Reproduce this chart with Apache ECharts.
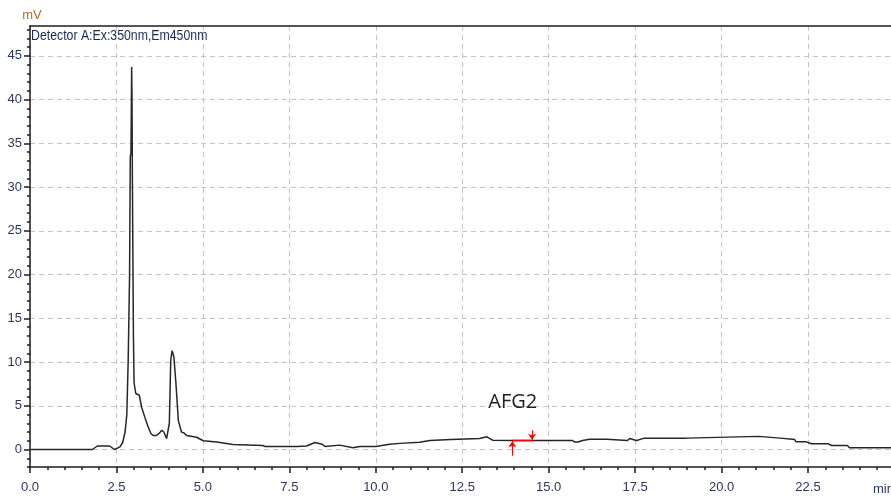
<!DOCTYPE html>
<html>
<head>
<meta charset="utf-8">
<title>Detector A chromatogram</title>
<script src="https://cdn.jsdelivr.net/npm/echarts@6/dist/echarts.min.js"></script>
<style>
  html, body { margin: 0; padding: 0; background: #ffffff; }
  #chart { width: 891px; height: 497px; }
</style>
</head>
<body>
<div id="chart"></div>
<script>
// Retention time (min) and detector response (mV)
const times = [
  0.0, 1.8, 1.95, 2.3, 2.45, 2.5, 2.6, 2.68, 2.75, 2.8,
  2.84, 2.88, 2.9, 2.92, 2.94, 2.95, 2.96, 2.99, 3.01, 3.06,
  3.16, 3.23, 3.32, 3.42, 3.5, 3.56, 3.66, 3.75, 3.81, 3.87,
  3.95, 4.0, 4.03, 4.07, 4.11, 4.16, 4.22, 4.29, 4.38, 4.45,
  4.53, 4.82, 5.01, 5.4, 5.87, 6.73, 6.8, 7.72, 7.75, 8.0,
  8.24, 8.45, 8.53, 8.96, 9.34, 9.54, 10.0, 10.4, 10.7, 11.27,
  11.56, 12.17, 13.0, 13.21, 13.38, 13.96, 14.54, 15.69, 15.75, 15.85,
  15.98, 16.18, 16.68, 16.71, 17.28, 17.34, 17.54, 17.77, 18.99, 19.02,
  21.07, 21.1, 21.7, 21.75, 22.11, 22.15, 22.43, 22.6, 23.09, 23.18,
  23.64, 23.7, 24.9
];
const signal = [
  0.0, 0.0, 0.4, 0.4, 0.0, -0.1, 0.3, 0.8, 2.0, 4.0,
  10.2, 20.0, 33.5, 33.8, 43.7, 40.0, 31.6, 13.3, 7.6, 6.4,
  6.2, 4.8, 3.7, 2.55, 1.8, 1.6, 1.6, 1.9, 2.2, 2.0,
  1.25, 1.3, 3.0, 10.2, 11.3, 10.6, 7.6, 3.3, 2.0, 1.9,
  1.6, 1.4, 1.0, 0.85, 0.57, 0.45, 0.35, 0.35, 0.57, 0.4,
  0.8, 0.6, 0.35, 0.5, 0.2, 0.35, 0.35, 0.6, 0.7, 0.84,
  1.03, 1.15, 1.26, 1.45, 1.06, 1.03, 1.03, 1.03, 0.85, 0.85,
  1.03, 1.18, 1.18, 1.03, 1.03, 1.25, 1.03, 1.3, 1.3, 1.5,
  1.5, 1.3, 1.3, 1.15, 1.15, 0.9, 0.9, 0.65, 0.65, 0.46,
  0.46, 0.2, 0.2
];

// Axis ticks
const xTicks = [0, 2.5, 5, 7.5, 10, 12.5, 15, 17.5, 20, 22.5];
const xMinorTicks = [];
for (let t = 0.5; t < 24.9; t += 0.5) xMinorTicks.push(Math.round(t * 10) / 10);
const yTicks = [0, 5, 10, 15, 20, 25, 30, 35, 40, 45];
const yMinorTicks = [];
for (let v = -2; v <= 48; v += 1) yMinorTicks.push(v);

// Integrated peak: name, start / end time, baseline level
const peakName = 'AFG2';
const peakStart = 13.95;
const peakEnd = 14.54;
const peakBase = 1.03;
const peakLabelPos = [13.96, 5.4];
const startArrow = [[13.95, -0.7], [13.95, 0.95]];
const endArrow = [[14.52, 2.2], [14.52, 1.12]];

const xMin = 0, xMax = 24.9, yMin = -2, yMax = 48.4;

const labelColor = '#2c3660';
const axisColor = '#1e1e1e';
const gridColor = '#c4c4c4';
const labelFont = '"Liberation Sans", Arial, sans-serif';

const chart = echarts.init(document.getElementById('chart'), null, { renderer: 'canvas' });

chart.setOption({
  animation: false,
  backgroundColor: '#ffffff',
  grid: { left: 30, right: 0, top: 26, bottom: 30 },
  xAxis: [
    {
      type: 'value', min: xMin, max: xMax, position: 'bottom',
      axisLine: { show: true, onZero: false, lineStyle: { color: axisColor, width: 1.5 } },
      axisTick: { show: true, customValues: xTicks, length: 6, lineStyle: { color: axisColor, width: 1.5 } },
      axisLabel: {
        show: true, customValues: xTicks, margin: 14,
        formatter: v => v.toFixed(1),
        color: labelColor, fontSize: 13, fontFamily: labelFont
      },
      splitLine: { show: true, lineStyle: { color: gridColor, width: 1, type: [5, 4] } }
    },
    {
      type: 'value', min: xMin, max: xMax, position: 'bottom',
      axisLine: { show: false, onZero: false },
      axisTick: { show: true, customValues: xMinorTicks, length: 3, lineStyle: { color: axisColor, width: 1.5 } },
      axisLabel: { show: false },
      splitLine: { show: false }
    },
    {
      type: 'value', min: xMin, max: xMax, position: 'top',
      axisLine: { show: true, onZero: false, lineStyle: { color: axisColor, width: 1.5 } },
      axisTick: { show: false },
      axisLabel: { show: false },
      splitLine: { show: false }
    }
  ],
  yAxis: [
    {
      type: 'value', min: yMin, max: yMax, position: 'left',
      name: 'mV', nameLocation: 'end', nameGap: 4,
      nameTextStyle: { color: '#b06c28', fontSize: 13, fontFamily: labelFont, padding: [0, 0, 0, 4] },
      axisLine: { show: true, onZero: false, lineStyle: { color: axisColor, width: 1.5 } },
      axisTick: { show: true, customValues: yTicks, length: 6, lineStyle: { color: axisColor, width: 1.5 } },
      axisLabel: {
        show: true, customValues: yTicks, margin: 8,
        color: labelColor, fontSize: 13, fontFamily: labelFont
      },
      splitLine: { show: true, lineStyle: { color: gridColor, width: 1, type: [5, 4] } }
    },
    {
      type: 'value', min: yMin, max: yMax, position: 'left',
      axisLine: { show: false, onZero: false },
      axisTick: { show: true, customValues: yMinorTicks, length: 3, lineStyle: { color: axisColor, width: 1.5 } },
      axisLabel: { show: false },
      splitLine: { show: false }
    }
  ],
  graphic: [
    {
      type: 'text', x: 31, y: 28, scaleX: 0.82,
      style: {
        text: 'Detector A:Ex:350nm,Em450nm',
        fill: '#1c2858', fontSize: 15, fontFamily: labelFont,
        textVerticalAlign: 'top'
      }
    },
    {
      type: 'text', x: 873, y: 483,
      style: {
        text: 'min', fill: labelColor, fontSize: 13, fontFamily: labelFont,
        textVerticalAlign: 'top'
      }
    }
  ],
  series: [
    {
      type: 'line', name: 'Detector A',
      xAxisIndex: 0, yAxisIndex: 0,
      data: times.map((t, i) => [t, signal[i]]),
      showSymbol: false, symbol: 'none',
      lineStyle: { color: '#262626', width: 1.5 },
      z: 3
    },
    {
      type: 'line', name: peakName,
      xAxisIndex: 0, yAxisIndex: 0,
      data: [[peakStart, peakBase], [peakEnd, peakBase]],
      showSymbol: false, symbol: 'none',
      lineStyle: { color: '#ff0000', width: 1.5 },
      z: 4,
      markPoint: {
        symbol: 'circle', symbolSize: 0,
        label: {
          show: true, position: 'inside', formatter: peakName,
          color: '#1e1e28', fontSize: 20, fontFamily: '"Open Sans", sans-serif'
        },
        data: [{ coord: peakLabelPos }]
      }
    },
    {
      type: 'lines', coordinateSystem: 'cartesian2d',
      xAxisIndex: 0, yAxisIndex: 0,
      symbol: ['none', 'arrow'], symbolSize: 6,
      lineStyle: { color: '#ff0000', width: 1, opacity: 1, curveness: 0 },
      data: [{ coords: startArrow }, { coords: endArrow }],
      z: 5
    }
  ]
});
</script>
</body>
</html>
